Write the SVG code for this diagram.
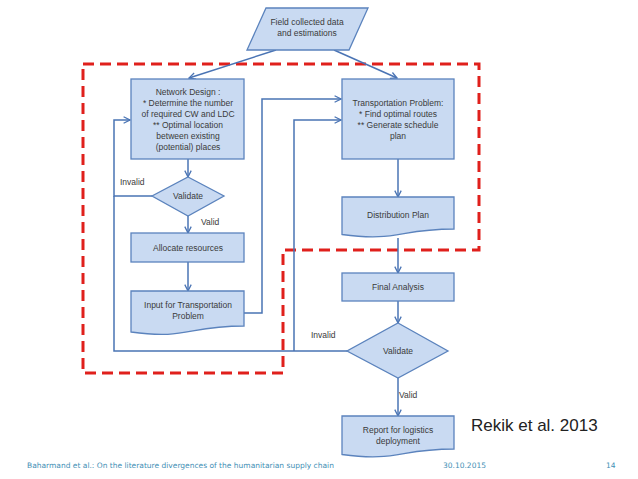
<svg xmlns="http://www.w3.org/2000/svg" width="638" height="479" viewBox="0 0 638 479">
<defs>
<style>
.box{fill:#c9daf2;stroke:#5b83bd;stroke-width:1.3}
.t{font-family:"Liberation Sans",Arial,sans-serif;font-size:8.5px;fill:#3a3a3a;text-anchor:middle}
.lbl{font-family:"Liberation Sans",Arial,sans-serif;font-size:8.5px;fill:#3a3a3a}
.c{fill:none;stroke:#4a74b4;stroke-width:1.5}
.red{fill:none;stroke:#e0201c;stroke-width:3;stroke-dasharray:11 6}
.foot{font-family:"DejaVu Sans",sans-serif;font-size:7.5px;fill:#3f8fb5}
</style>
<marker id="ar" viewBox="0 0 10 10" refX="9" refY="5" markerWidth="8" markerHeight="8" orient="auto" markerUnits="userSpaceOnUse">
<path d="M1,1 L9,5 L1,9" fill="none" stroke="#4a74b4" stroke-width="1.6"/>
</marker>
</defs>
<rect width="638" height="479" fill="#ffffff"/>
<polygon class="red" points="83,64 479,64 479,250 283,250 283,373 83,373"/>
<g id="connectors">
<line class="c" x1="276" y1="50" x2="189" y2="78" marker-end="url(#ar)"/>
<line class="c" x1="334" y1="50" x2="397" y2="78" marker-end="url(#ar)"/>
<line class="c" x1="188" y1="159" x2="188" y2="177" marker-end="url(#ar)"/>
<line class="c" x1="188" y1="216" x2="188" y2="233" marker-end="url(#ar)"/>
<polyline class="c" points="152,196 114,196 114,120 130,120" marker-end="url(#ar)"/>
<line class="c" x1="188" y1="262" x2="188" y2="291" marker-end="url(#ar)"/>
<polyline class="c" points="244,313 262,313 262,99 341,99" marker-end="url(#ar)"/>
<line class="c" x1="398" y1="159" x2="398" y2="197" marker-end="url(#ar)"/>
<line class="c" x1="398" y1="238" x2="398" y2="273" marker-end="url(#ar)"/>
<line class="c" x1="398" y1="301" x2="398" y2="323" marker-end="url(#ar)"/>
<polyline class="c" points="347,351 114,351 114,196"/>
<polyline class="c" points="294,351 294,120 341,120" marker-end="url(#ar)"/>
<line class="c" x1="398" y1="378" x2="398" y2="416" marker-end="url(#ar)"/>
<text class="lbl" x="120" y="185">Invalid</text>
<text class="lbl" x="201" y="225">Valid</text>
<text class="lbl" x="311" y="338">Invalid</text>
<text class="lbl" x="399" y="398">Valid</text>
</g>
<g id="field">
<polygon class="box" points="266,8 368,8 349,50 247,50"/>
<text class="t" x="307" y="25">Field collected data</text>
<text class="t" x="307" y="36">and estimations</text>
</g>
<g id="network">
<rect class="box" x="131" y="79" width="113" height="80"/>
<text class="t" x="188" y="95">Network Design :</text>
<text class="t" x="188" y="106">* Determine the number</text>
<text class="t" x="188" y="117">of required CW and LDC</text>
<text class="t" x="188" y="128">** Optimal location</text>
<text class="t" x="188" y="139">between existing</text>
<text class="t" x="188" y="150">(potential) places</text>
</g>
<g id="transport">
<rect class="box" x="342" y="79" width="112" height="80"/>
<text class="t" x="398" y="106">Transportation Problem:</text>
<text class="t" x="398" y="117">* Find optimal routes</text>
<text class="t" x="398" y="128">** Generate schedule</text>
<text class="t" x="398" y="139">plan</text>
</g>
<g id="validate1">
<polygon class="box" points="188,177 224,196 188,216 152,196"/>
<text class="t" x="188" y="199">Validate</text>
</g>
<g id="allocate">
<rect class="box" x="131" y="233" width="113" height="29"/>
<text class="t" x="188" y="251">Allocate resources</text>
</g>
<g id="input">
<path class="box" d="M131,291 H244 V326 C187,326 187,340 131,332 Z"/>
<text class="t" x="188" y="308">Input for Transportation</text>
<text class="t" x="188" y="319">Problem</text>
</g>
<g id="distribution">
<path class="box" d="M342,197 H454 V229 C398,229 398,242 342,234.5 Z"/>
<text class="t" x="398" y="218">Distribution Plan</text>
</g>
<g id="final">
<rect class="box" x="342" y="273" width="112" height="28"/>
<text class="t" x="398" y="290">Final Analysis</text>
</g>
<g id="validate2">
<polygon class="box" points="398,323 448,351 398,378 347,351"/>
<text class="t" x="398" y="354">Validate</text>
</g>
<g id="report">
<path class="box" d="M342,416 H454 V449 C398,449 398,462 342,454.5 Z"/>
<text class="t" x="398" y="433">Report for logistics</text>
<text class="t" x="398" y="444">deployment</text>
</g>
<text x="471" y="431" font-family="Liberation Sans,Arial,sans-serif" font-size="17" fill="#222">Rekik et al. 2013</text>
<text class="foot" x="27" y="468">Baharmand et al.: On the literature divergences of the humanitarian supply chain</text>
<text class="foot" x="443" y="468">30.10.2015</text>
<text class="foot" x="606" y="468">14</text>
</svg>
